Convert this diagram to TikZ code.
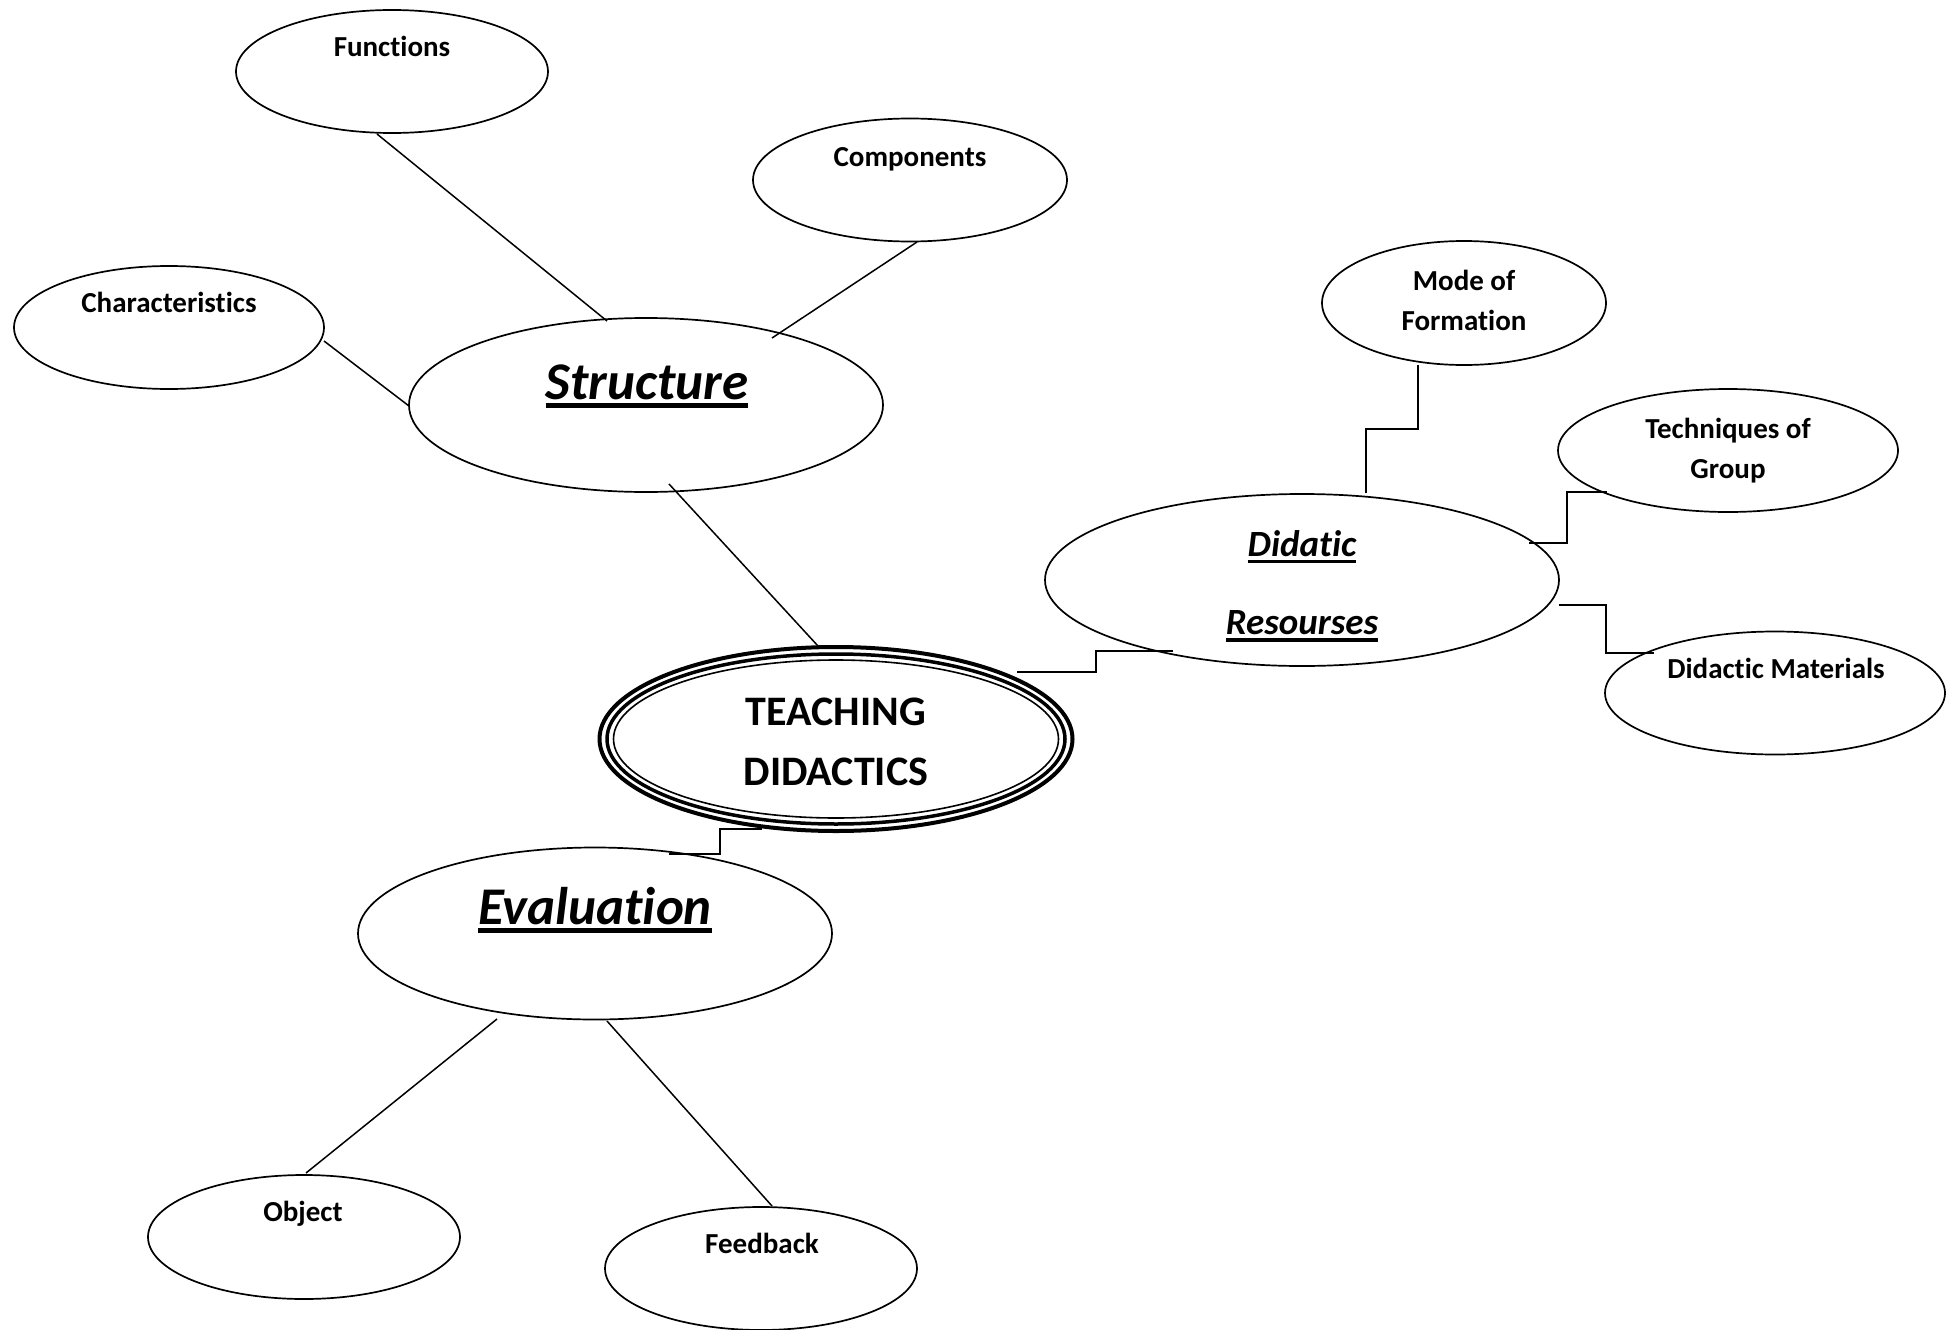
\documentclass[tikz,border=0pt]{standalone}
\usepackage{fontspec}
\setmainfont{Carlito}[Ligatures=NoCommon]
\usetikzlibrary{shapes.geometric}
% underline with a rule of given depth (#1) and thickness (#2)
\newcommand\ulbar[3]{\setbox0=\hbox{#3}\rlap{\rule[-#1]{\wd0}{#2}}\box0}
\begin{document}
\begin{tikzpicture}[x=1pt,y=-1pt,
  bubble/.style={ellipse,draw,line width=1.7pt,inner sep=0pt},
  ovaldims/.style 2 args={minimum width=#1pt,minimum height=#2pt},
  small/.style={font=\fontsize{29}{35}\selectfont\bfseries,anchor=base,inner sep=0pt},
  big/.style={font=\fontsize{53}{60}\selectfont\bfseries\itshape,anchor=base,inner sep=0pt},
  mid/.style={font=\fontsize{37}{44}\selectfont\bfseries\itshape,anchor=base,inner sep=0pt},
  caps/.style={font=\fontsize{42}{50}\selectfont\bfseries,anchor=base,inner sep=0pt},
  link/.style={line width=1.5pt}]
\fill[white] (0,0) rectangle (1949,1330);
\useasboundingbox (0,0) rectangle (1949,1330);

% ovals
\node[bubble,ovaldims={312}{123}] (func) at (392,71.5) {};
\node[bubble,ovaldims={314}{123}] (comp) at (910,180) {};
\node[bubble,ovaldims={310}{123}] (char) at (169,327.5) {};
\node[bubble,ovaldims={474}{174}] (struct) at (646,405) {};
\node[bubble,ovaldims={284}{124}] (mode) at (1464,303) {};
\node[bubble,ovaldims={340}{123}] (tech) at (1728,450.5) {};
\node[bubble,ovaldims={514}{172}] (didat) at (1302,580) {};
\node[bubble,ovaldims={340}{123}] (mat) at (1775,693) {};
\node[ellipse,draw,line width=4pt,inner sep=0pt,ovaldims={473}{184}] (teach) at (836,739) {};
\draw[line width=3.5pt] (teach.center) ellipse [x radius=229pt, y radius=85pt];
\draw[line width=1.6pt] (teach.center) ellipse [x radius=222.5pt, y radius=79pt];
\node[bubble,ovaldims={474}{172}] (eval) at (595,933.5) {};
\node[bubble,ovaldims={312}{124}] (obj) at (304,1237) {};
\node[bubble,ovaldims={312}{123}] (feed) at (761,1268.5) {};

% labels
\node[small] (funcT) at (392,56.5) {Functions};
\node[small] (compT) at (910,166) {Components};
\node[small] (charT) at (169,312.6) {Characteristics};
\node[small] (modeA) at (1464,290) {Mode of};
\node[small] (modeB) at (1464,330) {Formation};
\node[small] (techA) at (1728,438) {Techniques of};
\node[small] (techB) at (1728,478) {Group};
\node[small] (matT) at (1776,678) {Didactic Materials};
\node[small] (objT) at (303,1221) {Object};
\node[small] (feedT) at (762,1253.5) {Feedback};
\node[big] (structT) at (647,399) {\ulbar{9pt}{5pt}{Structure}};
\node[big] (evalT) at (595,924) {\ulbar{9pt}{5pt}{Evaluation}};
\node[caps] (teachA) at (836,725) {TEACHING};
\node[caps] (teachB) at (836,785) {DIDACTICS};
\node[mid] (didatA) at (1302,556) {\ulbar{7pt}{3.5pt}{Didatic}};
\node[mid] (didatB) at (1302,634.5) {\ulbar{7pt}{3.5pt}{Resourses}};

% connectors
\draw[link] ([shift={(-15,62.5)}]func.center) -- ([shift={(-39,-84)}]struct.center);
\draw[link] ([shift={(7,62)}]comp.center) -- ([shift={(126,-67)}]struct.center);
\draw[link] ([shift={(155,13.5)}]char.center) -- ([shift={(-237,1)}]struct.center);
\draw[link] ([shift={(23,79)}]struct.center) -- ([shift={(-18,-93)}]teach.center);
\draw[link] ([shift={(181,-67)}]teach.center) -- ++(79,0) |- ([shift={(-129,71)}]didat.center);
\draw[link] ([shift={(-74,90)}]teach.center) -- ++(-42,0) |- ([shift={(74,-79.5)}]eval.center);
\draw[link] ([shift={(64,-87)}]didat.center) -- ++(0,-64) -| ([shift={(-46,62)}]mode.center);
\draw[link] ([shift={(227,-37)}]didat.center) -- ++(38,0) |- ([shift={(-121,41.5)}]tech.center);
\draw[link] ([shift={(257,25)}]didat.center) -- ++(47,0) |- ([shift={(-121,-40)}]mat.center);
\draw[link] ([shift={(-98,85.5)}]eval.center) -- ([shift={(2,-64)}]obj.center);
\draw[link] ([shift={(12,87.5)}]eval.center) -- ([shift={(11,-62.5)}]feed.center);
\end{tikzpicture}
\end{document}
